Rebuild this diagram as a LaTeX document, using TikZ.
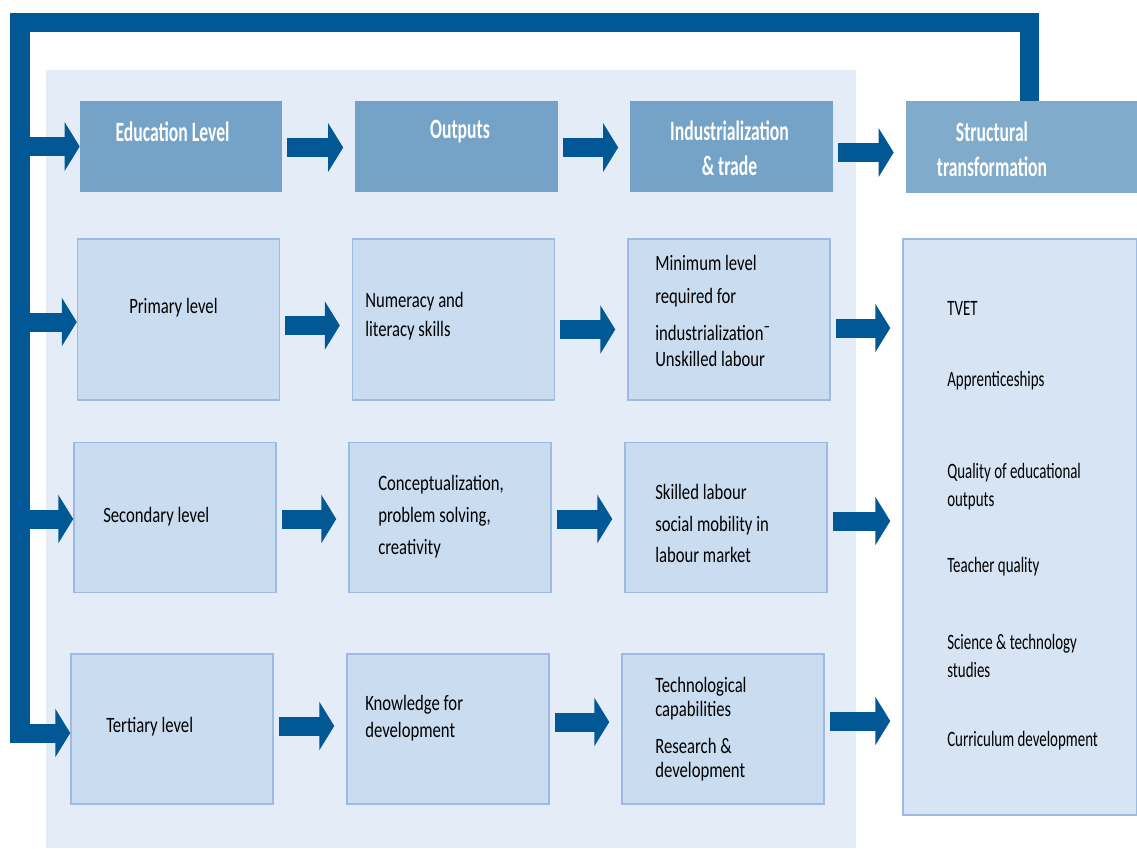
\documentclass[tikz,border=0pt]{standalone}
\usepackage{fontspec}
\setmainfont{Carlito}
\newfontfamily\cellfont[FakeStretch=0.76]{Carlito}
\newfontfamily\listfont[FakeStretch=0.68]{Carlito}
\newfontfamily\headfont[FakeStretch=0.63]{Carlito}
\usetikzlibrary{arrows.meta}

\definecolor{barblue}{RGB}{2,88,148}
\definecolor{headfill}{RGB}{116,163,199}
\definecolor{structfill}{RGB}{128,171,202}
\definecolor{panelfill}{RGB}{228,236,247}
\definecolor{cellfill}{RGB}{201,220,240}
\definecolor{cellline}{RGB}{157,187,226}
\definecolor{listfill}{RGB}{214,228,244}

\tikzset{
  head/.style={fill=headfill, minimum width=5.05cm, minimum height=2.275cm, inner sep=0},
  headtext/.style={text=white, align=center, inner sep=0,
    font=\headfont\bfseries\fontsize{19.9}{24.9}\selectfont},
  cell/.style={draw=cellline, fill=cellfill, line width=1pt, minimum width=5.05cm, inner sep=0},
  celltext/.style={anchor=west, align=left, inner sep=0,
    font=\cellfont\fontsize{15.6}{20.6}\selectfont},
  listtext/.style={anchor=west, align=left, inner sep=0,
    font=\listfont\fontsize{15.6}{19.9}\selectfont},
  flow/.style={draw=barblue, line width=0.475cm,
    -{Triangle[length=0.375cm,width=1.2cm]}, shorten <=0.125cm, shorten >=0.3cm},
  feed/.style={flow, shorten <=0pt, shorten >=0pt},
}

\begin{document}
\begin{tikzpicture}[x=0.025cm, y=-0.025cm]
  \useasboundingbox (0,0) rectangle (1137,848);

  % light panel behind the first three columns
  \fill[panelfill] (46,70) rectangle (856,848);

  % header row
  \node[head] (edu) at (181,146.5) {};
  \node[head] (out) at (456.5,146.5) {};
  \node[head] (ind) at (731.5,146.5) {};
  \node[head, fill=structfill, minimum width=5.775cm] (str) at (1021.5,147) {};
  \node[headtext] (edu-t) at (172.5,132) {Education Level};
  \node[headtext] (out-t) at (460,132) {Outputs};
  \node[headtext] (ind-t) at (729.5,148.5) {Industrialization\\\& trade};
  \node[headtext] (str-t) at (992,149) {Structural\\transformation};

  % level rows
  \node[cell, minimum height=4.025cm] (pri) at (178.5,319.5) {};
  \node[cell, minimum height=4.025cm] (num) at (453.5,319.5) {};
  \node[cell, minimum height=4.025cm] (min) at (729,319.5) {};
  \node[cell, minimum height=3.75cm] (sec) at (175,517.5) {};
  \node[cell, minimum height=3.75cm] (con) at (450,517.5) {};
  \node[cell, minimum height=3.75cm] (ski) at (726,517.5) {};
  \node[cell, minimum height=3.75cm] (ter) at (172,729) {};
  \node[cell, minimum height=3.75cm] (kno) at (448,729) {};
  \node[cell, minimum height=3.75cm] (tec) at (723,729) {};

  \node[celltext] (pri-t) at (129,308) {Primary level};
  \node[celltext] (num-t) at (365,316.5) {Numeracy and\\literacy skills};
  \node[celltext, font=\cellfont\fontsize{15.6}{18.5}\selectfont] (min-t) at (655,311)
    {Minimum level\\[5pt]required for\\[7.8pt]industrialization¯\\Unskilled labour};
  \node[celltext] (sec-t) at (103,517) {Secondary level};
  \node[celltext, font=\cellfont\fontsize{15.6}{22.8}\selectfont] (con-t) at (378,517)
    {Conceptualization,\\problem solving,\\creativity};
  \node[celltext, font=\cellfont\fontsize{15.6}{22.4}\selectfont] (ski-t) at (655,523.5)
    {Skilled labour\\social mobility in\\labour market};
  \node[celltext] (ter-t) at (106,727) {Tertiary level};
  \node[celltext, font=\cellfont\fontsize{15.6}{19.2}\selectfont] (kno-t) at (365,718.5)
    {Knowledge for\\development};
  \node[celltext, font=\cellfont\fontsize{15.6}{17}\selectfont] (tec-t) at (655,729)
    {Technological\\capabilities\\[9.2pt]Research \&\\development};

  % policy list on the right
  \node[cell, fill=listfill, minimum width=5.85cm, minimum height=14.4cm] (lst) at (1020,527) {};
  \foreach \y/\t [count=\i] in {308/{TVET}, 381/{Apprenticeships},
      487/{Quality of educational\\outputs}, 567/{Teacher quality},
      656/{Science \& technology\\studies}, 741/{Curriculum development}}
    \node[listtext] (item\i) at (947,\y) {\t};

  % feedback loop down the left side
  \coordinate (spine) at (20,22.5);
  \draw[feed, line join=miter] ([xshift=0.1875cm]str.north) |- (spine)
    |- ([yshift=-0.1cm]ter.west);
  \foreach \b/\dy in {edu/0, pri/2.5, sec/1.5}
    \draw[feed] ([yshift=-\dy*0.025cm]spine |- \b.west) -- ([yshift=-\dy*0.025cm]\b.west);

  % flows along each row (drop in px below the box centre)
  \foreach \a/\b/\dy in {edu/out/1, out/ind/1, ind/str/6, pri/num/6, num/min/10,
      sec/con/1.5, con/ski/1.5, ter/kno/-3, kno/tec/-7}
    \draw[flow] ([yshift=-\dy*0.025cm]\a.east) -- ([yshift=-\dy*0.025cm]\a.east -| \b.west);
  \foreach \a/\dy in {min/8.5, ski/3.5, tec/-8}
    \draw[flow] ([yshift=-\dy*0.025cm]\a.east) -- ([yshift=-\dy*0.025cm]\a.east -| lst.west);
\end{tikzpicture}
\end{document}
